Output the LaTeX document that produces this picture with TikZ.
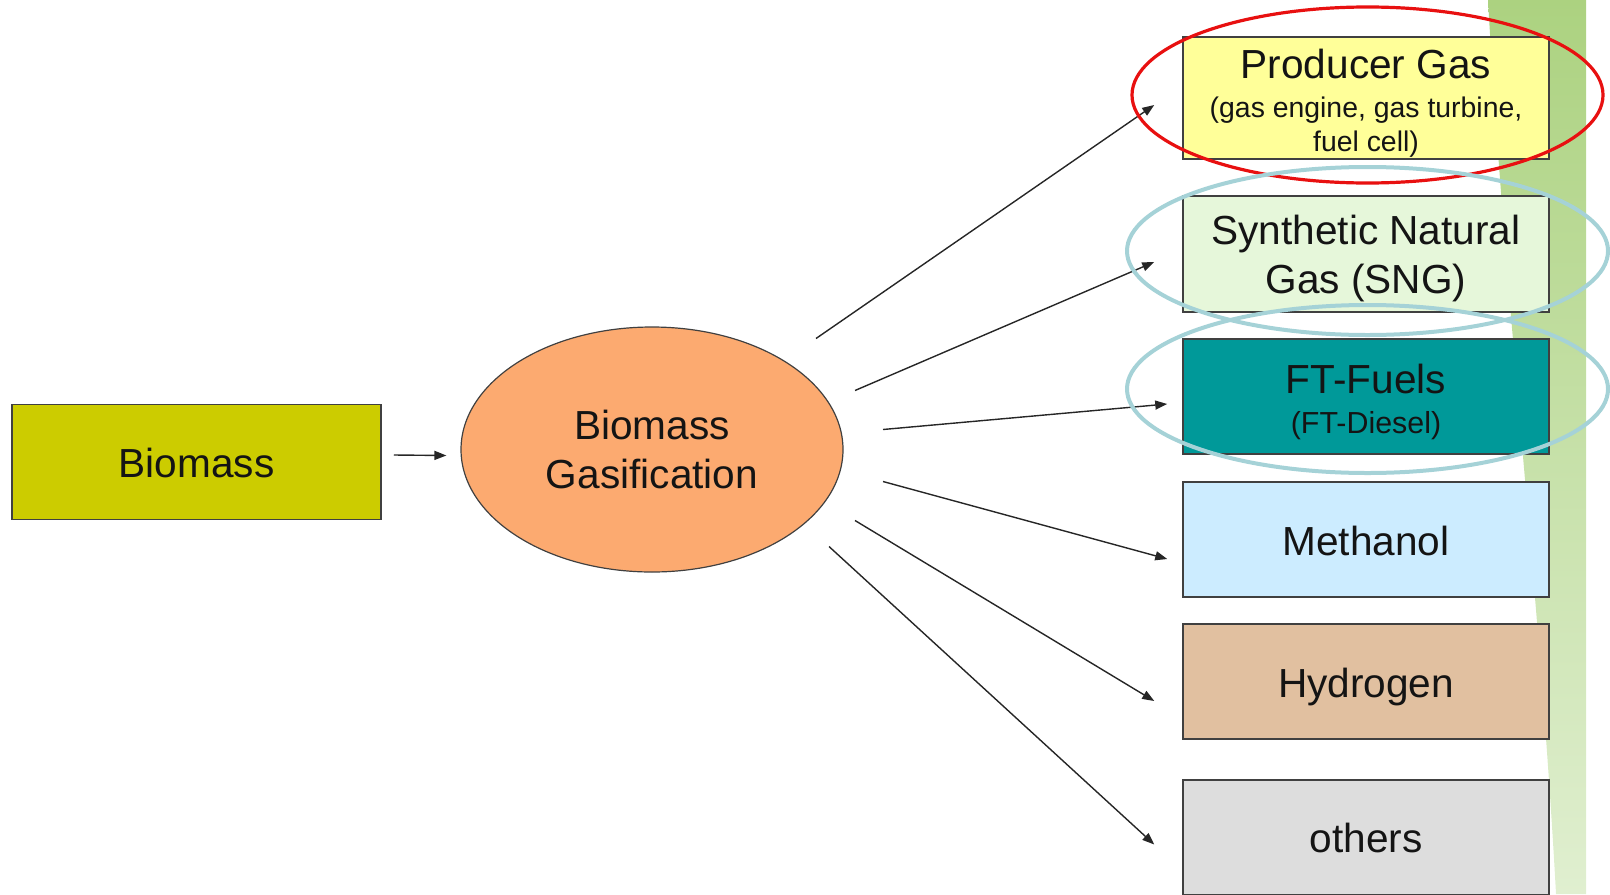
\documentclass[tikz,border=0pt]{standalone}
\usepackage{fontspec}
\setmainfont{Liberation Sans}
\usetikzlibrary{shapes.geometric,arrows.meta}

\definecolor{bioyellow}{RGB}{204,204,0}
\definecolor{gasorange}{RGB}{252,170,112}
\definecolor{pgyellow}{RGB}{255,255,153}
\definecolor{snggreen}{RGB}{230,247,218}
\definecolor{ftteal}{RGB}{0,153,153}
\definecolor{meohblue}{RGB}{204,236,255}
\definecolor{htwotan}{RGB}{225,192,160}
\definecolor{othgray}{RGB}{221,221,221}
\definecolor{ringred}{RGB}{232,16,16}
\definecolor{ringblue}{RGB}{165,210,215}
\definecolor{stripetop}{RGB}{172,210,128}
\definecolor{stripebot}{RGB}{224,239,208}
\definecolor{boxline}{RGB}{64,64,64}
\definecolor{txt}{RGB}{20,20,20}

\newcommand{\bigtxt}{\fontsize{20.3}{24.4}\selectfont}
\newcommand{\smalltxt}{\fontsize{14.2}{17}\selectfont}
% several lines, moved down a little
\newcommand{\lines}[2]{\raisebox{#1}[\height][\depth]{\begin{tabular}{@{}c@{}}#2\end{tabular}}}

\tikzset{
  outbox/.style={draw=boxline, line width=0.75pt, minimum width=183pt, minimum height=57.5pt,
    inner sep=0pt, align=center, font=\bigtxt, text=txt},
  oneline/.style={text height=15.5pt, text depth=0pt},
  flow/.style={-{Triangle[length=6pt,width=4.5pt]}, line width=0.7pt, draw=black!85},
  ring/.style={line width=2pt},
}

\begin{document}
\begin{tikzpicture}[x=0.5pt,y=-0.5pt]
\useasboundingbox (0,0) rectangle (1610,894);

% green stripe at the right
\shade[top color=stripetop, bottom color=stripebot]
  (1488,0) .. controls (1505,300) and (1540,600) .. (1556,894)
  -- (1586,894) -- (1586,0) -- cycle;

\node[outbox, oneline, fill=bioyellow, minimum width=184.5pt] (bio) at (196.5,462) {Biomass};
\node[ellipse, draw=boxline, line width=0.6pt, fill=gasorange, minimum width=191pt,
  minimum height=122.5pt, inner sep=0pt, align=center, font=\bigtxt, text=txt]
  (gas) at (652,449.5) {Biomass\\Gasification};

\node[outbox, fill=pgyellow, minimum height=59pt] (pg) at (1366,98)
  {\lines{-3.6pt}{Producer Gas\\[-4.9pt]\smalltxt (gas engine, gas turbine,\\[-7.4pt]\smalltxt fuel cell)}};
\node[outbox, fill=snggreen, minimum height=58pt] (sng) at (1366,254)
  {\lines{-2.5pt}{Synthetic Natural\\Gas (SNG)}};
\node[outbox, fill=ftteal] (ft) at (1366,396.5)
  {\lines{-3.7pt}{FT-Fuels\\[-4.4pt]\fontsize{15.2}{18}\selectfont (FT-Diesel)}};
\node[outbox, oneline, fill=meohblue] (meoh) at (1366,539.5) {Methanol};
\node[outbox, oneline, fill=htwotan] (htwo) at (1366,681.5) {Hydrogen};
\node[outbox, fill=othgray] (oth) at (1366,837.5) {others};

\draw[flow] ([xshift=6pt,yshift=3.5pt]bio.east) -- ([xshift=-7pt,yshift=-3pt]gas.west);

\foreach \tgt/\from/\to in {pg/{164,-111}/{-28,7}, sng/{203,-59}/{-28,8}, ft/{231,-20}/{-15,7.5},
    meoh/{231,32}/{-15,19.5}, htwo/{203,71}/{-28,19.5}, oth/{177,97}/{-28,7}}{
  \draw[flow] ([shift={(\from)}]gas.center) -- ([shift={(\to)}]\tgt.west);
}

% highlight rings
\draw[ring, draw=ringred, line width=1.6pt] (1367.5,95) ellipse [x radius=235.5, y radius=88];
\draw[ring, draw=ringblue] (1367.5,251) ellipse [x radius=240.5, y radius=84];
\draw[ring, draw=ringblue] (1367.5,389) ellipse [x radius=240.5, y radius=84];
\end{tikzpicture}
\end{document}
